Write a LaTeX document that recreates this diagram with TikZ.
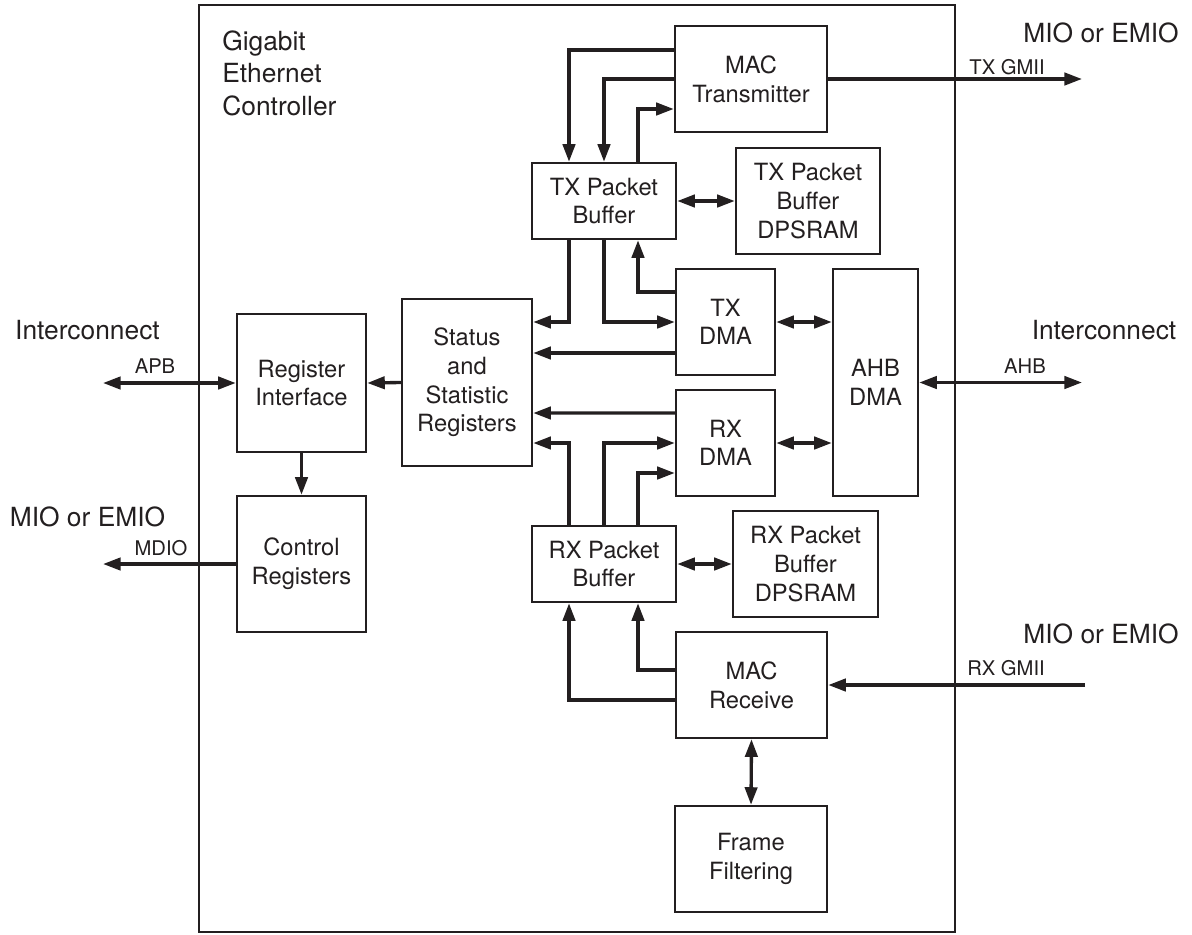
\documentclass[tikz,border=0pt]{standalone}
\usepackage{fontspec}
\setmainfont{TeX Gyre Heros}
\usepackage{tikz}
\usetikzlibrary{arrows.meta, positioning, calc}
\definecolor{ink}{HTML}{231F20}

\begin{document}
\begin{tikzpicture}[x=0.02cm, y=-0.02cm, >={Triangle[length=10pt, width=7pt]},
    blk/.style={draw=ink, line width=1.4pt, inner sep=0pt, align=center, text=ink, font=\fontsize{13.5}{16.3}\selectfont},
    bus/.style={draw=ink, line width=1.9pt, ->},
    dbus/.style={draw=ink, line width=1.9pt, <->},
    biglbl/.style={anchor=base, inner sep=0pt, text=ink, font=\fontsize{15}{18.5}\selectfont},
    smalllbl/.style={anchor=base, inner sep=0pt, text=ink, font=\fontsize{11.5}{13}\selectfont}]

      \useasboundingbox (0,0) rectangle (1192,934);

      % --- Controller outline ---
      \draw[ink, line width=1pt] (199,5) rectangle (955,932);
      \node[biglbl, anchor=north west, align=left] (gec) at (222,30) {Gigabit\\Ethernet\\Controller};

      % --- Transmit side ---
      \node[blk, minimum width=3.04cm, minimum height=2.12cm] (mactx) at (751,79) {MAC\\Transmitter};
      \node[blk, minimum width=2.88cm, minimum height=1.52cm] (txpb) at (604,201) {TX Packet\\Buffer};
      \node[blk, minimum width=2.88cm, minimum height=2.12cm] (txram) at (808,201) {TX Packet\\Buffer\\DPSRAM};
      \node[blk, minimum width=1.98cm, minimum height=2.12cm] (txdma) at (725.5,322) {TX\\DMA};

      % --- DMA and registers ---
      \node[blk, minimum width=1.70cm, minimum height=4.54cm] (ahb) at (875.5,382.5) {AHB\\DMA};
      \node[blk, minimum width=2.60cm, minimum height=3.34cm] (stat) at (467,382.5) {Status\\and\\Statistic\\Registers};
      \node[blk, minimum width=2.58cm, minimum height=2.76cm] (regif) at (301.5,383) {Register\\Interface};
      \node[blk, minimum width=2.58cm, minimum height=2.72cm] (ctrl) at (301.5,564) {Control\\Registers};

      % --- Receive side ---
      \node[blk, minimum width=1.98cm, minimum height=2.12cm] (rxdma) at (725.5,443) {RX\\DMA};
      \node[blk, minimum width=2.88cm, minimum height=1.52cm] (rxpb) at (604,564) {RX Packet\\Buffer};
      \node[blk, minimum width=2.90cm, minimum height=2.12cm] (rxram) at (805.5,564) {RX Packet\\Buffer\\DPSRAM};
      \node[blk, minimum width=3.02cm, minimum height=2.12cm] (macrx) at (751.5,685) {MAC\\Receive};
      \node[blk, minimum width=3.04cm, minimum height=2.12cm] (ff) at (751,859) {Frame\\Filtering};

      % --- MAC transmitter <-> TX packet buffer ---
      \draw[bus] ($(mactx.west)+(0,-29)$) -| ($(txpb.north)+(-35,0)$);
      \draw[bus] (mactx.west) -| (txpb.north);
      \draw[bus] ($(txpb.north)+(34,0)$) |- ($(mactx.west)+(0,30)$);
      \draw[dbus] (txpb.east) -- (txram.west);

      % --- TX packet buffer <-> TX DMA / status ---
      \draw[bus] ($(txpb.south)+(-35,0)$) |- ($(stat.east)+(0,-60.5)$);
      \draw[bus] (txpb.south) |- (txdma.west);
      \draw[bus] ($(txdma.west)+(0,-30)$) -| ($(txpb.south)+(34,0)$);
      \draw[bus] ($(txdma.west)+(0,31)$) -- ($(stat.east)+(0,-29.5)$);
      \draw[dbus] (txdma.east) -- (txdma.east -| ahb.west);

      % --- RX DMA / status <-> RX packet buffer ---
      \draw[bus] ($(rxdma.west)+(0,-30)$) -- ($(stat.east)+(0,30.5)$);
      \draw[bus] ($(rxpb.north)+(-35,0)$) |- ($(stat.east)+(0,60.5)$);
      \draw[bus] (rxpb.north) |- (rxdma.west);
      \draw[bus] ($(rxpb.north)+(34,0)$) |- ($(rxdma.west)+(0,30)$);
      \draw[dbus] (rxdma.east) -- (rxdma.east -| ahb.west);
      \draw[dbus] (rxpb.east) -- (rxram.west);

      % --- MAC receive ---
      \draw[bus] ($(macrx.west)+(0,-15)$) -| ($(rxpb.south)+(34,0)$);
      \draw[bus] ($(macrx.west)+(0,15)$) -| ($(rxpb.south)+(-35,0)$);
      \draw[dbus] (macrx.south) -- (ff.north);

      % --- Register path ---
      \draw[bus] (stat.west) -- (regif.east);
      \draw[bus] (regif.south) -- (ctrl.north);

      % --- External interfaces ---
      \coordinate (apb) at (103,383);
      \coordinate (mdio) at (103,564);
      \coordinate (txgmii) at (1082,79);
      \coordinate (ahbout) at (1082,382.5);
      \coordinate (rxgmii) at (1085,685);
      \draw[dbus] (apb) -- (regif.west);
      \draw[bus] (ctrl.west) -- (mdio);
      \draw[bus] (mactx.east) -- (txgmii);
      \draw[dbus] (ahb.east) -- (ahbout);
      \draw[bus] (rxgmii) -- (macrx.east);

      % --- Interface labels ---
      \node[biglbl] (icleft) at (87.5,339) {Interconnect};
      \node[smalllbl] (apblbl) at (155,373) {APB};
      \node[biglbl] (mioleft) at (87.5,526) {MIO or EMIO};
      \node[smalllbl] (mdiolbl) at (161,555) {MDIO};
      \node[biglbl] (miotx) at (1101,42) {MIO or EMIO};
      \node[smalllbl] (txgmiilbl) at (1007,74) {TX GMII};
      \node[biglbl] (icright) at (1104,339) {Interconnect};
      \node[smalllbl] (ahblbl) at (1025,373) {AHB};
      \node[biglbl] (miorx) at (1101,643) {MIO or EMIO};
      \node[smalllbl] (rxgmiilbl) at (1006,675) {RX GMII};

    \end{tikzpicture}
\end{document}
